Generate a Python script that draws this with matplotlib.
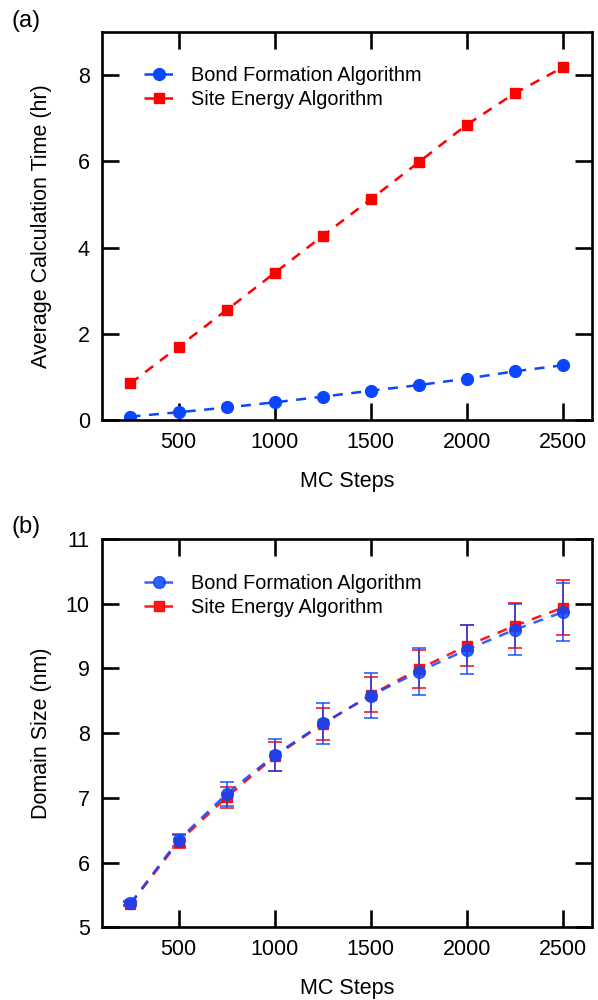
import matplotlib
matplotlib.use("Agg")
import matplotlib.pyplot as plt

plt.rcParams["font.family"] = ["Liberation Sans", "DejaVu Sans"]

# MC steps
steps = [250, 500, 750, 1000, 1250, 1500, 1750, 2000, 2250, 2500]

# (a) average calculation time [hr]
time_bond = [0.08, 0.18, 0.29, 0.41, 0.54, 0.68, 0.81, 0.96, 1.13, 1.27]
time_site = [0.85, 1.70, 2.55, 3.41, 4.27, 5.12, 5.98, 6.85, 7.58, 8.18]

# (b) domain size [nm] with standard deviation
size_bond = [5.37, 6.35, 7.06, 7.66, 8.15, 8.58, 8.95, 9.29, 9.60, 9.87]
err_bond = [0.03, 0.09, 0.19, 0.25, 0.31, 0.35, 0.36, 0.38, 0.39, 0.45]
size_site = [5.36, 6.32, 7.01, 7.64, 8.14, 8.59, 8.99, 9.35, 9.66, 9.94]
err_site = [0.03, 0.10, 0.16, 0.22, 0.25, 0.27, 0.30, 0.32, 0.35, 0.42]

blue = "#0a46ff"
red = "#ff0000"
dash = (4.0, 3.4)
lw = 1.8

fig = plt.figure(figsize=(5.98, 10.0), dpi=100)
ax1 = fig.add_axes([0.170, 0.580, 0.8195, 0.388])
ax2 = fig.add_axes([0.170, 0.0727, 0.8195, 0.3883])


def style(ax):
    for s in ax.spines.values():
        s.set_linewidth(1.9)
    ax.tick_params(direction="in", length=12, width=1.9, top=True, right=True,
                   labelsize=15.5, pad=8.5)
    ax.set_xlim(100, 2650)
    ax.set_xticks([500, 1000, 1500, 2000, 2500])
    ax.set_xlabel("MC Steps", fontsize=15.5, labelpad=13)


leg_kw = dict(loc="upper left", frameon=False, fontsize=14.3,
              handlelength=1.5, handletextpad=0.9, borderaxespad=0,
              borderpad=0, labelspacing=0.25)

# (a)
ax1.plot(steps, time_bond, color=blue, ls=(0, dash), lw=lw, marker="o",
         ms=8.5, label="Bond Formation Algorithm")
ax1.plot(steps, time_site, color=red, ls=(0, dash), lw=lw, marker="s",
         ms=7.4, label="Site Energy Algorithm")
style(ax1)
ax1.set_ylim(0, 9)
ax1.set_yticks([0, 2, 4, 6, 8])
ax1.set_ylabel("Average Calculation Time (hr)", fontsize=15.5)
ax1.yaxis.set_label_coords(-0.102, 0.5)
ax1.legend(bbox_to_anchor=(0.086, 0.912), **leg_kw)

# (b)
h_site = ax2.errorbar(steps, size_site, yerr=err_site, color=red,
                      ls=(0, dash), lw=lw, marker="s", ms=7.4, capsize=5,
                      elinewidth=1.2, capthick=1.2, alpha=0.9,
                      label="Site Energy Algorithm")
h_bond = ax2.errorbar(steps, size_bond, yerr=err_bond, color=blue,
                      ls=(0, dash), lw=lw, marker="o", ms=8.5, capsize=5,
                      elinewidth=1.2, capthick=1.2, alpha=0.85,
                      label="Bond Formation Algorithm")
style(ax2)
ax2.set_ylim(5, 11)
ax2.set_yticks([5, 6, 7, 8, 9, 10, 11])
ax2.set_ylabel("Domain Size (nm)", fontsize=15.5)
ax2.yaxis.set_label_coords(-0.102, 0.5)
ax2.legend([h_bond[0], h_site[0]],
           ["Bond Formation Algorithm", "Site Energy Algorithm"],
           bbox_to_anchor=(0.086, 0.91), **leg_kw)

fig.text(0.02, 0.99, "(a)", fontsize=17, va="top", ha="left")
fig.text(0.02, 0.484, "(b)", fontsize=17, va="top", ha="left")

fig.savefig("out.png", dpi=100)
